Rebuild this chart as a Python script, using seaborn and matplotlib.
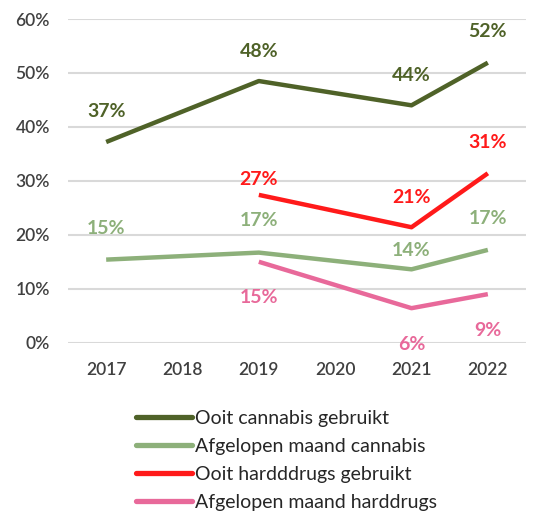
import matplotlib
matplotlib.use("Agg")
import matplotlib.pyplot as plt
from matplotlib.lines import Line2D
import seaborn as sns
import pandas as pd

# ---- data ----
years_cannabis = [2017, 2019, 2021, 2022]
years_hard = [2019, 2021, 2022]
ooit_cannabis = [37.2, 48.5, 44.0, 51.9]
maand_cannabis = [15.4, 16.7, 13.6, 17.2]
ooit_hard = [27.4, 21.4, 31.4]
maand_hard = [15.0, 6.4, 9.0]
labels_ooit_cannabis = ["37%", "48%", "44%", "52%"]
labels_maand_cannabis = ["15%", "17%", "14%", "17%"]
labels_ooit_hard = ["27%", "21%", "31%"]
labels_maand_hard = ["15%", "6%", "9%"]
series_names = ["Ooit cannabis gebruikt", "Afgelopen maand cannabis",
                "Ooit hardddrugs gebruikt", "Afgelopen maand harddrugs"]
x_ticks = [2017, 2018, 2019, 2020, 2021, 2022]
y_ticks = [0, 10, 20, 30, 40, 50, 60]

# ---- styling ----
colors = ["#4F6228", "#8DB07A", "#FF1A1A", "#E8699A"]
text_colors = ["#4F6228", "#8DB07A", "#FF1A1A", "#E8699A"]
offsets = [[-31, -30, -30, -31], [-31, -32, -19, -31], [-15, -30, -31], [36, 36, 36]]

sns.set_theme(style="white")
plt.rcParams["font.family"] = ["Lato", "DejaVu Sans"]

rows = []
for name, xs, ys in zip(series_names,
                        [years_cannabis, years_cannabis, years_hard, years_hard],
                        [ooit_cannabis, maand_cannabis, ooit_hard, maand_hard]):
    for x, y in zip(xs, ys):
        rows.append({"jaar": x, "waarde": y, "reeks": name})
df = pd.DataFrame(rows)

fig = plt.figure(figsize=(5.35, 5.14), dpi=100)
ax = fig.add_axes([68 / 535, 1 - 342.7 / 514, 458 / 535, (342.7 - 19) / 514])

sns.lineplot(data=df, x="jaar", y="waarde", hue="reeks", hue_order=series_names,
             palette=colors, linewidth=3.2, estimator=None, sort=False,
             legend=False, ax=ax, zorder=3, solid_capstyle="butt")

all_labels = [labels_ooit_cannabis, labels_maand_cannabis, labels_ooit_hard, labels_maand_hard]
all_x = [years_cannabis, years_cannabis, years_hard, years_hard]
all_y = [ooit_cannabis, maand_cannabis, ooit_hard, maand_hard]
for labs, xs, ys, col, offs in zip(all_labels, all_x, all_y, text_colors, offsets):
    for lab, x, y, o in zip(labs, xs, ys, offs):
        ax.annotate(lab, (x, y), xytext=(0, -o), textcoords="offset pixels",
                    ha="center", va="center", fontsize=14, fontweight="bold",
                    color=col, zorder=4)

ax.set_xlim(2016.5, 2022.5)
ax.set_ylim(0, 60)
ax.set_xticks(x_ticks)
ax.set_yticks(y_ticks)
ax.set_yticklabels([f"{v}%" for v in y_ticks])
ax.set_xlabel("")
ax.set_ylabel("")
ax.yaxis.grid(True, color="#D9D9D9", linewidth=1.5, zorder=0)
ax.xaxis.grid(False)
for s in ax.spines.values():
    s.set_visible(False)
ax.tick_params(axis="both", length=0, labelsize=12.5, labelcolor="#404040")
ax.tick_params(axis="y", pad=13)
ax.tick_params(axis="x", pad=14)
for t in ax.get_xticklabels() + ax.get_yticklabels():
    t.set_fontweight("semibold")
ax.set_clip_on(False)

handles = [Line2D([0], [0], color=c, linewidth=3.8) for c in colors]
fig.legend(handles, series_names, loc="upper left",
           bbox_to_anchor=(128 / 535, 1 - 402 / 514), frameon=False,
           fontsize=14, handlelength=2.9, handletextpad=0.15,
           labelspacing=0.57, borderaxespad=0, labelcolor="#262626")

fig.savefig("out.png", dpi=100)
